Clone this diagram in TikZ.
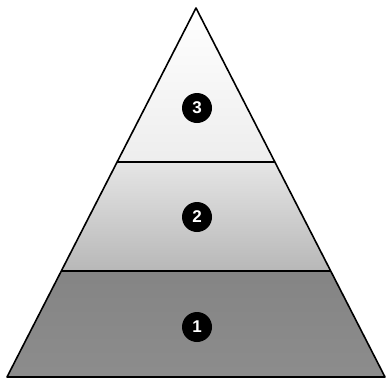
\documentclass[tikz,border=0pt]{standalone}
\usepackage{fontspec}
\setmainfont{Liberation Sans}
\definecolor{topA}{gray}{1.0}
\definecolor{topB}{gray}{0.93}
\definecolor{midA}{gray}{0.90}
\definecolor{midB}{gray}{0.72}
\definecolor{lowA}{gray}{0.52}
\definecolor{lowB}{gray}{0.55}
\begin{document}
\begin{tikzpicture}[x=1pt,y=-1pt,
  edge/.style={draw=black,line width=1.6pt,line join=round},
  badge/.style={circle,fill=black,minimum size=30pt,inner sep=0pt,text=white,font=\bfseries\fontsize{17}{17}\selectfont}]
\useasboundingbox (0,0) rectangle (387,381);
\coordinate (A) at (196,8);
\coordinate (BL) at (7,377);
\coordinate (BR) at (385,377);
\coordinate (ML) at (117.2,162);
\coordinate (MR) at (274.8,162);
\coordinate (LL) at (61.3,271);
\coordinate (LR) at (330.7,271);
% fills
\shade[top color=topA,bottom color=topB] (A) -- (MR) -- (ML) -- cycle;
\shade[top color=midA,bottom color=midB] (ML) -- (MR) -- (LR) -- (LL) -- cycle;
\shade[top color=lowA,bottom color=lowB] (LL) -- (LR) -- (BR) -- (BL) -- cycle;
% outline
\draw[edge] (A) -- (BR) -- (BL) -- cycle;
\draw[edge] (ML) -- (MR);
\draw[edge] (LL) -- (LR);
% badges
\node[badge] (n3) at (197,108) {3};
\node[badge] (n2) at (197,217) {2};
\node[badge] (n1) at (197,327) {1};
\end{tikzpicture}
\end{document}
